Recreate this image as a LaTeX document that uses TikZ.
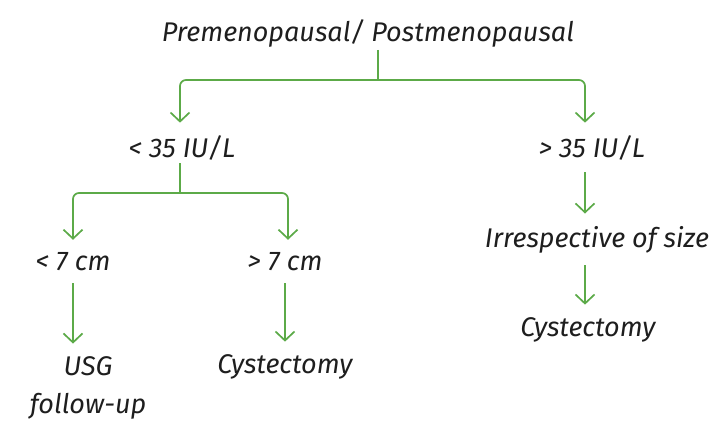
\documentclass[tikz,border=0pt]{standalone}
\usepackage{fontspec}
\setmainfont{Fira Sans}
\usetikzlibrary{arrows.meta,positioning}
\definecolor{leaf}{RGB}{92,170,72}
\definecolor{ink}{RGB}{30,30,30}
\tikzset{
  lbl/.style={font=\fontsize{27}{38}\selectfont\itshape, text=ink, align=center,
              inner sep=0pt, outer sep=3pt},
  stem/.style={line width=1.7pt, leaf},
  arrow/.style={-{Straight Barb[length=9pt,width=19pt]}, line width=1.7pt, leaf,
                rounded corners=6pt, shorten >=10pt},
  gap/.style={shorten <=9pt},
}
\begin{document}
\begin{tikzpicture}[x=1pt,y=-1pt]
  \useasboundingbox (0,0) rectangle (721,425);
  \node[lbl] (stat) at (368,33) {Premenopausal/ Postmenopausal};
  \node[lbl] (low) at (182,148) {< 35 IU/L};
  \node[lbl] (high) at (592,148) {> 35 IU/L};
  \node[lbl] (small) at (73,262) {< 7 cm};
  \node[lbl] (large) at (285,262) {> 7 cm};
  \node[lbl] (irresp) at (597,240) {Irrespective of size};
  \node[lbl] (followup) at (88,388) {USG\\follow-up};
  \node[lbl] (cystA) at (285,367) {Cystectomy};
  \node[lbl] (cystB) at (588,330) {Cystectomy};
  % branch points
  \coordinate (fork1) at (378,80);
  \coordinate (fork2) at (180,193);
  \coordinate (colR) at (585,0);
  \draw[stem] (stat.south -| fork1) -- (fork1);
  \draw[arrow] (fork1) -| (low.north -| fork2);
  \draw[arrow] (fork1) -| (high.north -| colR);
  \draw[stem] (low.south -| fork2) -- (fork2);
  \draw[arrow] (fork2) -| (small.north);
  \draw[arrow] (fork2) -| ([xshift=3pt]large.north);
  \draw[arrow, gap] (high.south -| colR) -- (irresp.north -| colR);
  \draw[arrow, gap] (irresp.south -| colR) -- (cystB.north -| colR);
  \draw[arrow, gap] (small.south) -- (small.south |- followup.north);
  \draw[arrow, gap] (large.south) -- (cystA.north);
\end{tikzpicture}
\end{document}
